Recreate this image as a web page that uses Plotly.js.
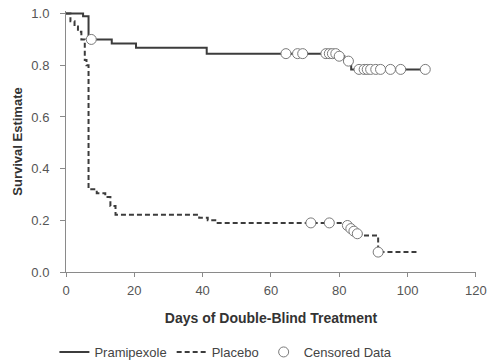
<!DOCTYPE html>
<html>
<head>
<meta charset="utf-8">
<script src="https://cdn.plot.ly/plotly-3.0.1.min.js"></script>
<style>html,body{margin:0;padding:0;background:#fff;}#chart{width:487px;height:364px;}</style>
</head>
<body>
<div id="chart"></div>
<script>
// Pramipexole Kaplan-Meier steps
const pramDays = [0, 5, 6.6, 13.4, 20.5, 41.2, 79.5, 81.5, 83.5, 105.2];
const pramSurv = [1.0, 0.99, 0.90, 0.884, 0.868, 0.845, 0.835, 0.816, 0.784, 0.784];
// Placebo Kaplan-Meier steps
const placDays = [0, 1.3, 2.5, 3.5, 4.5, 5.5, 6.0, 6.6, 9, 11.5, 13, 14.5, 39, 41.5, 44, 82, 83, 84, 85, 86.5, 91.4, 102.8];
const placSurv = [1.0, 0.97, 0.95, 0.93, 0.90, 0.82, 0.80, 0.32, 0.305, 0.29, 0.255, 0.222, 0.21, 0.20, 0.19, 0.18, 0.168, 0.158, 0.148, 0.141, 0.077, 0.077];
// Censored observations
const pramCensDays = [7.4, 64.4, 67.8, 69.3, 76.1, 77.1, 78.0, 79.0, 80.0, 82.7, 85.8, 87.3, 88.2, 89.2, 90.7, 92.1, 95.0, 98.0, 105.2];
const pramCensSurv = [0.90, 0.845, 0.845, 0.845, 0.845, 0.845, 0.845, 0.845, 0.835, 0.816, 0.784, 0.784, 0.784, 0.784, 0.784, 0.784, 0.784, 0.784, 0.784];
const placCensDays = [71.7, 77.1, 82.4, 83.4, 84.3, 85.3, 91.4];
const placCensSurv = [0.19, 0.19, 0.18, 0.168, 0.158, 0.148, 0.077];
const xTicks = [0, 20, 40, 60, 80, 100, 120];
const yTicks = [0.0, 0.2, 0.4, 0.6, 0.8, 1.0];

const lineCol = '#3c3c3c';
const traces = [
  {x: pramDays, y: pramSurv, type: 'scatter', mode: 'lines', name: 'Pramipexole',
   line: {shape: 'hv', color: lineCol, width: 2}},
  {x: placDays, y: placSurv, type: 'scatter', mode: 'lines', name: 'Placebo',
   line: {shape: 'hv', color: lineCol, width: 2, dash: '5px,3px'}},
  {x: pramCensDays.concat(placCensDays), y: pramCensSurv.concat(placCensSurv),
   type: 'scatter', mode: 'markers', name: 'Censored Data', cliponaxis: false,
   marker: {symbol: 'circle', size: 10, color: '#ffffff', line: {color: '#7a7a7a', width: 1}}}
];
const layout = {
  width: 487, height: 364,
  margin: {l: 66, r: 11, t: 11, b: 92, autoexpand: false},
  paper_bgcolor: '#fff', plot_bgcolor: '#fff',
  font: {family: 'Liberation Sans, Arial, sans-serif', color: '#555', size: 13},
  showlegend: true,
  legend: {orientation: 'h', x: 0.39, xanchor: 'center', y: -0.249, yanchor: 'top',
           font: {size: 13, color: '#444'}, bgcolor: 'rgba(0,0,0,0)', itemwidth: 30},
  xaxis: {range: [0, 120.05], tickvals: xTicks, ticktext: xTicks.map(String),
          showline: true, linecolor: '#8a8a8a', linewidth: 1, showgrid: false, zeroline: false,
          ticks: 'outside', ticklen: 4, tickcolor: '#8a8a8a', ticklabelstandoff: 2,
          ticklabeloverflow: 'allow',
          title: {text: '<b>Days of Double-Blind Treatment</b>', font: {size: 14, color: '#333'}, standoff: 16}},
  yaxis: {range: [0, 1.01], tickvals: yTicks, ticktext: yTicks.map(v => v.toFixed(1)),
          showline: true, linecolor: '#8a8a8a', linewidth: 1, showgrid: false, zeroline: false,
          ticks: 'outside', ticklen: 5, tickcolor: '#8a8a8a', ticklabelstandoff: 8,
          title: {text: '<b>Survival Estimate</b>', font: {size: 13, color: '#333'}, standoff: 5}}
};
Plotly.newPlot('chart', traces, layout, {displayModeBar: false, staticPlot: true});
</script>
</body>
</html>
